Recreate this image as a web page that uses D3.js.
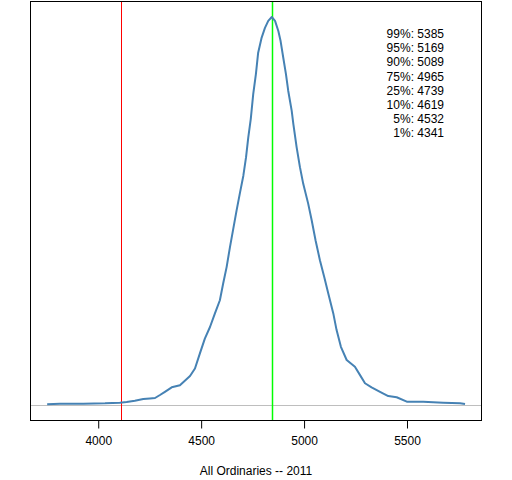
<!DOCTYPE html>
<html>
<head>
<meta charset="utf-8">
<script src="https://cdn.jsdelivr.net/npm/d3@7"></script>
<style>
body{margin:0;background:#fff;}
svg{display:block;}
text{font-family:"Liberation Sans",Arial,sans-serif;font-size:12px;fill:#000;}
</style>
</head>
<body>
<div id="chart"></div>
<script>
// Density curve (x = index level, y = density normalised to peak 1)
const densX = [3752,3814,3887,3927,4033,4105,4138,4178,4219,4251,4276,4300,4324,4357,4397,4446,4470,4494,4518,4543,4567,4591,4607,4624,4640,4656,4672,4689,4705,4718,4729,4741,4753,4766,4777,4794,4810,4826,4843,4859,4875,4886,4899,4912,4923,4940,4948,4964,4980,4996,5020,5037,5056,5077,5098,5118,5142,5158,5179,5207,5247,5272,5296,5328,5369,5409,5450,5499,5579,5676,5758,5782];
const densY = [0.0018,0.0033,0.0033,0.0033,0.0044,0.006,0.0077,0.011,0.0154,0.017,0.018,0.0257,0.034,0.0455,0.051,0.0746,0.094,0.133,0.171,0.201,0.236,0.270,0.313,0.356,0.407,0.454,0.501,0.548,0.591,0.638,0.690,0.737,0.801,0.853,0.908,0.947,0.972,0.990,1.0,0.990,0.964,0.938,0.895,0.853,0.810,0.758,0.724,0.664,0.613,0.570,0.519,0.476,0.424,0.373,0.330,0.287,0.236,0.193,0.150,0.116,0.0985,0.077,0.056,0.0455,0.034,0.023,0.020,0.0085,0.0085,0.006,0.0044,0.0026];
const redLineX = 4112;
const greenLineX = 4845;
const xTicks = [4000,4500,5000,5500];
const quantLabels = ["99%","95%","90%","75%","25%","10%","5%","1%"];
const quantValues = [5385,5169,5089,4965,4739,4619,4532,4341];
const xTitle = "All Ordinaries -- 2011";

const W = 512, H = 480;
const L = 30.5, R = 481.5, T = 1.5, B = 420.5;

const svg = d3.select("#chart").append("svg").attr("width", W).attr("height", H);

const x = d3.scaleLinear().domain([3671, 5862]).range([L, R]);
const y = d3.scaleLinear().domain([-0.04, 1.04]).range([B, T]);

// zero line
svg.append("line").attr("x1", L).attr("x2", R)
  .attr("y1", Math.round(y(0)) + 0.5).attr("y2", Math.round(y(0)) + 0.5)
  .attr("stroke", "#bebebe").attr("stroke-width", 1);

// vertical lines
svg.append("line").attr("x1", Math.round(x(redLineX)) + 0.5).attr("x2", Math.round(x(redLineX)) + 0.5)
  .attr("y1", T).attr("y2", B).attr("stroke", "#ff0000").attr("stroke-width", 1);
svg.append("line").attr("x1", Math.round(x(greenLineX)) + 0.5).attr("x2", Math.round(x(greenLineX)) + 0.5)
  .attr("y1", T).attr("y2", B).attr("stroke", "#00ff00").attr("stroke-width", 1.5);

// density curve
const pts = densX.map((d, i) => [d, densY[i]]);
svg.append("path").datum(pts)
  .attr("d", d3.line().x(d => x(d[0])).y(d => y(d[1])))
  .attr("fill", "none").attr("stroke", "#4682b4").attr("stroke-width", 2)
  .attr("stroke-linejoin", "round");

// box
svg.append("rect").attr("x", L).attr("y", T).attr("width", R - L).attr("height", B - T)
  .attr("fill", "none").attr("stroke", "#000").attr("stroke-width", 1);

// x axis
const ax = d3.axisBottom(x).tickValues(xTicks).tickSize(8).tickPadding(8).tickFormat(d3.format("d"));
const g = svg.append("g").attr("transform", `translate(0,${B})`).call(ax);
g.select(".domain").remove();
g.selectAll("text").style("font-size", "12px").attr("fill", "#000")
  .style("font-family", "'Liberation Sans',Arial,sans-serif");
g.selectAll("line").attr("stroke", "#000");

// axis title
svg.append("text").attr("x", (L + R) / 2).attr("y", 475).attr("text-anchor", "middle").text(xTitle);

// quantile legend
const lg = svg.append("g");
quantLabels.forEach((lab, i) => {
  lg.append("text").attr("x", 444).attr("y", 38 + i * 14.2)
    .attr("text-anchor", "end").text(lab + ": " + quantValues[i]);
});
</script>
</body>
</html>
